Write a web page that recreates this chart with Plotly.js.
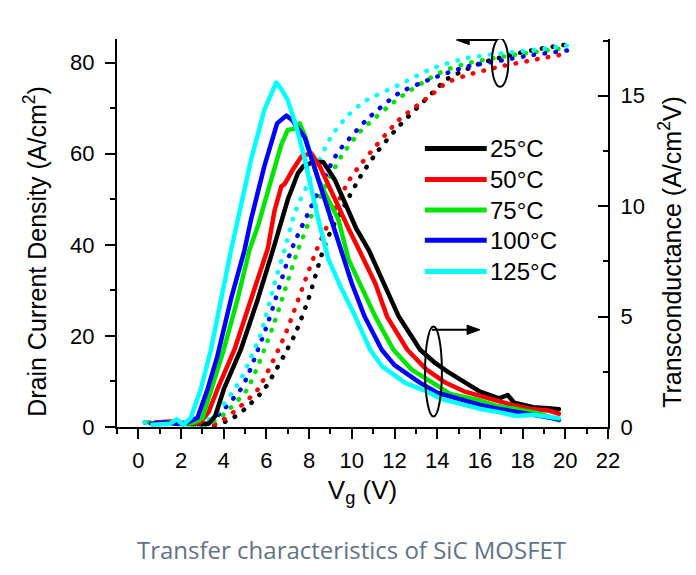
<!DOCTYPE html>
<html>
<head>
<meta charset="utf-8">
<script src="https://cdn.plot.ly/plotly-3.0.1.min.js"></script>
<style>
html,body{margin:0;padding:0;background:#fff;}
#chart{width:696px;height:575px;}
#chart path.js-line{stroke-linecap:round;stroke-linejoin:round;}
</style>
</head>
<body>
<div id="chart"></div>
<script>
// ---- data ----
const temps = ['25°C', '50°C', '75°C', '100°C', '125°C'];
const colors = ['#000000', '#ff0000', '#00e600', '#0000ff', '#00ffff'];

// Drain current density (left axis, dotted)
const idVg25 = [1.0, 2.0, 2.8, 3.5, 4.34, 5.0, 5.9, 7.3, 7.96, 8.66, 9.06, 9.7, 10.4, 11.2, 12.2, 13.8, 14.4, 14.9, 16.1, 17.7, 19.0, 20.1];
const id25   = [0.9, 0.7, 0.3, 0.3, 1.7, 4.0, 8.3, 20.0, 28, 38.9, 43.5, 49, 55, 60.5, 66, 73.5, 76.2, 77.5, 80, 82.0, 83.2, 84.0];
const idVg50 = [0.5, 1.2, 2.0, 2.8, 3.5, 4.0, 4.6, 5.6, 6.85, 8.35, 9.84, 10.47, 12.2, 13.8, 14.4, 15.35, 16.9, 18.5, 20.1];
const id50   = [1.0, 0.9, 0.7, 0.3, 0.4, 1.7, 3.8, 8.3, 20.0, 38.9, 53.9, 58.0, 67.4, 73.2, 75.5, 77.2, 79.1, 80.6, 82.0];
const idVg75 = [0.5, 1.2, 2.0, 2.6, 3.2, 3.7, 4.1, 5.1, 6.3, 7.48, 8.3, 9.5, 10.4, 12.2, 13.8, 14.4, 15.35, 16.9, 18.5, 20.1];
const id75   = [1.0, 1.0, 0.8, 0.3, 0.4, 1.7, 3.2, 8.3, 22.0, 38.9, 48.4, 59.4, 64.9, 72.2, 77, 78.4, 79.8, 81.2, 82.3, 83.3];
const idVg100 = [0.3, 1.0, 1.6, 2.4, 3.0, 3.5, 3.87, 4.8, 5.1, 6.07, 7.17, 8.1, 9.06, 9.37, 10.3, 10.7, 12.2, 13.8, 15.35, 16.9, 18.5, 20.1];
const id100   = [1.0, 1.0, 0.9, 0.3, 0.4, 1.7, 3.2, 8.3, 11.0, 22.9, 38.9, 48.4, 58, 60.5, 65.5, 67.5, 73.3, 76.6, 79.1, 80.4, 81.7, 82.7];
const idVg125 = [0.3, 1.0, 1.5, 2.2, 2.8, 3.3, 3.55, 4.0, 4.5, 4.8, 5.7, 6.38, 6.85, 7.33, 8.1, 9.06, 9.84, 10.6, 12.2, 13.8, 15.35, 16.9, 18.5, 20.1];
const id125   = [1.0, 1.0, 0.9, 0.3, 0.4, 1.7, 2.4, 5.0, 8.3, 10.5, 20.0, 31.6, 38.9, 47, 55, 64, 68.5, 71.5, 75.1, 78.8, 81, 82, 82.8, 83.8];

// Transconductance (right axis, solid)
const gmVg25 = [1.0, 2.0, 2.8, 3.3, 3.6, 4.0, 4.8, 5.6, 6.3, 6.54, 7.0, 7.48, 7.72, 8.2, 8.66, 9.2, 9.7, 10.2, 10.8, 11.5, 12.2, 13.2, 13.9, 14.5, 15.0, 16.0, 16.9, 17.3, 17.6, 18.5, 19.2, 19.7];
const gm25   = [0.2, 0.2, 0.15, 0.15, 0.5, 1.7, 3.5, 5.8, 8.0, 8.8, 10.3, 11.5, 11.8, 12.0, 12.0, 11.2, 10.1, 9.0, 8.0, 6.5, 5.0, 3.5, 2.9, 2.5, 2.2, 1.6, 1.3, 1.45, 1.1, 0.9, 0.85, 0.8];
const gmVg50 = [0.8, 1.5, 2.2, 2.9, 3.3, 3.7, 4.5, 5.28, 5.9, 6.07, 6.38, 6.7, 6.85, 7.2, 7.64, 8.1, 8.5, 9.06, 9.84, 10.4, 11.1, 11.65, 12.6, 13.5, 14.4, 15.3, 16.6, 17.5, 18.5, 19.2, 19.7];
const gm50   = [0.2, 0.25, 0.15, 0.2, 0.7, 1.7, 3.5, 5.8, 7.6, 8.1, 9.8, 10.9, 11.0, 11.6, 12.25, 12.4, 11.8, 10.6, 9.0, 7.9, 6.5, 5.0, 3.5, 2.6, 2.0, 1.6, 1.25, 1.0, 0.8, 0.75, 0.6];
const gmVg75 = [0.8, 1.5, 2.2, 2.6, 3.0, 3.4, 4.0, 4.65, 5.2, 5.6, 6.23, 6.7, 7.0, 7.3, 7.56, 7.8, 8.43, 9.37, 9.84, 10.4, 11.1, 11.95, 12.8, 13.8, 14.6, 15.8, 16.8, 17.8, 18.8, 19.7];
const gm75   = [0.15, 0.2, 0.15, 0.2, 0.4, 1.7, 3.5, 5.8, 8.0, 9.1, 11.2, 12.8, 13.45, 13.5, 13.75, 13.2, 11.2, 9.4, 7.6, 6.4, 5.0, 3.5, 2.6, 2.0, 1.5, 1.25, 0.95, 0.8, 0.6, 0.3];
const gmVg100 = [0.6, 1.2, 1.8, 2.3, 2.77, 3.24, 3.7, 4.34, 4.97, 5.28, 5.9, 6.3, 6.5, 6.93, 7.2, 7.8, 8.74, 9.06, 9.5, 10.0, 10.6, 11.4, 12.0, 13.2, 14.0, 15.0, 16.0, 17.0, 18.0, 19.0, 19.7];
const gm100   = [0.15, 0.2, 0.15, 0.2, 0.42, 1.7, 3.2, 5.8, 8.0, 9.4, 11.8, 13.2, 13.75, 14.1, 13.9, 13.1, 10.3, 9.3, 7.9, 6.5, 5.0, 3.5, 2.8, 2.0, 1.55, 1.25, 1.0, 0.8, 0.65, 0.45, 0.35];
const gmVg125 = [0.65, 1.0, 1.5, 1.8, 2.1, 2.45, 2.92, 3.4, 3.87, 4.34, 4.8, 5.28, 5.9, 6.2, 6.46, 6.7, 7.0, 7.4, 7.8, 8.43, 8.9, 9.5, 10.16, 10.86, 11.4, 12.5, 13.46, 14.25, 15.0, 16.1, 17.0, 17.7, 18.5, 19.3, 19.7];
const gm125   = [0.1, 0.1, 0.15, 0.35, 0.1, 0.4, 1.7, 3.5, 5.8, 8.0, 10.0, 12.1, 14.36, 15.0, 15.6, 15.3, 14.8, 13.6, 12.1, 9.4, 7.6, 6.3, 5.0, 3.5, 2.76, 2.0, 1.63, 1.25, 1.05, 0.8, 0.65, 0.5, 0.55, 0.42, 0.4];

const xTicks = [0, 2, 4, 6, 8, 10, 12, 14, 16, 18, 20, 22];
const leftTicks = [0, 20, 40, 60, 80];
const rightTicks = [0, 5, 10, 15];

const idX = [idVg25, idVg50, idVg75, idVg100, idVg125];
const idY = [id25, id50, id75, id100, id125];
const gmX = [gmVg25, gmVg50, gmVg75, gmVg100, gmVg125];
const gmY = [gm25, gm50, gm75, gm100, gm125];

const FONT = 'Liberation Sans, Arial, Helvetica, sans-serif';
const traces = [];
for (let i = 0; i < 5; i++) {
  traces.push({
    x: idX[i], y: idY[i], type: 'scatter', mode: 'lines', xaxis: 'x', yaxis: 'y',
    line: {color: colors[i], width: 4.5, dash: '0.5px,10.5px', shape: 'spline', smoothing: 0.6},
    showlegend: false, name: temps[i] + ' Id', hoverinfo: 'skip'
  });
}
for (let i = 0; i < 5; i++) {
  traces.push({
    x: gmX[i], y: gmY[i], type: 'scatter', mode: 'lines', xaxis: 'x', yaxis: 'y2',
    line: {color: colors[i], width: 4.5, shape: 'linear'},
    showlegend: false, name: temps[i], hoverinfo: 'skip'
  });
}

// manual legend
const shapes = [];
const annotations = [];
const legY = [0.718, 0.638, 0.559, 0.481, 0.401];
for (let i = 0; i < 5; i++) {
  shapes.push({type: 'line', xref: 'paper', yref: 'paper', x0: 0.627, x1: 0.753, y0: legY[i], y1: legY[i],
    line: {color: colors[i], width: 5}});
  annotations.push({xref: 'paper', yref: 'paper', x: 0.756, y: legY[i], xanchor: 'left', yanchor: 'middle',
    text: temps[i], showarrow: false, font: {family: FONT, size: 24, color: '#000'}});
}
// ellipses
shapes.push({type: 'circle', xref: 'x', yref: 'y', x0: 16.56, x1: 17.33, y0: 74.7, y1: 85.35,
  line: {color: '#000', width: 2}});
shapes.push({type: 'circle', xref: 'x', yref: 'y', x0: 13.43, x1: 14.22, y0: 2.33, y1: 22.07,
  line: {color: '#000', width: 2}});
// arrows (shaft + head)
shapes.push({type: 'line', xref: 'x', yref: 'y', x0: 16.8, x1: 15.3, y0: 84.98, y1: 84.98, line: {color: '#000', width: 2}});
shapes.push({type: 'path', xref: 'x', yref: 'y', path: 'M14.9,84.98 L15.5,86.0 L15.5,83.96 Z',
  fillcolor: '#000', line: {color: '#000', width: 1}});
shapes.push({type: 'line', xref: 'x', yref: 'y', x0: 13.75, x1: 15.6, y0: 21.35, y1: 21.35, line: {color: '#000', width: 2}});
shapes.push({type: 'path', xref: 'x', yref: 'y', path: 'M16.0,21.35 L15.4,22.37 L15.4,20.33 Z',
  fillcolor: '#000', line: {color: '#000', width: 1}});
// axis titles placed like the reference
annotations.push({xref: 'paper', yref: 'paper', x: -0.167, y: 0.4515, xanchor: 'center', yanchor: 'middle',
  textangle: -90, showarrow: false, text: 'Drain Current Density (A/cm<sup>2</sup>)',
  font: {family: FONT, size: 25, color: '#000'}});
annotations.push({xref: 'paper', yref: 'paper', x: 1.1263, y: 0.4515, xanchor: 'center', yanchor: 'middle',
  textangle: -90, showarrow: false, text: 'Transconductance (A/cm<sup>2</sup>V)',
  font: {family: FONT, size: 25, color: '#000'}});
// caption
annotations.push({xref: 'paper', yref: 'paper', x: 0.4786, y: -0.317, xanchor: 'center', yanchor: 'middle',
  text: 'Transfer characteristics of SiC MOSFET', showarrow: false,
  font: {family: 'Open Sans, Noto Sans, sans-serif', size: 24, color: '#617386'}});

const axCommon = {
  showline: true, linecolor: '#000', linewidth: 2, mirror: false,
  showgrid: false, zeroline: false,
  tickcolor: '#000', tickwidth: 2, ticklen: 10,
  tickfont: {family: FONT, size: 22, color: '#000'}
};

const layout = {
  width: 696, height: 575,
  margin: {l: 117, r: 88, t: 39, b: 148, pad: 0},
  paper_bgcolor: '#ffffff', plot_bgcolor: '#ffffff',
  font: {family: FONT, color: '#000'},
  xaxis: Object.assign({}, axCommon, {
    range: [-1, 22], tickvals: xTicks, ticktext: xTicks.map(String), ticks: 'outside',
    ticklabelstandoff: 3,
    minor: {dtick: 1, tick0: 0, ticks: 'outside', ticklen: 5, tickwidth: 2, tickcolor: '#000', showgrid: false},
    title: {text: 'V<sub>g</sub> (V)', font: {family: FONT, size: 26, color: '#000'}, standoff: 8}
  }),
  yaxis: Object.assign({}, axCommon, {
    range: [0, 85.2], tickvals: leftTicks, ticktext: leftTicks.map(String), ticks: 'outside',
    ticklabelstandoff: 6,
    minor: {dtick: 10, tick0: 0, ticks: 'outside', ticklen: 5, tickwidth: 2, tickcolor: '#000', showgrid: false}
  }),
  yaxis2: Object.assign({}, axCommon, {
    overlaying: 'y', side: 'right', anchor: 'x',
    range: [0, 17.57], tickvals: rightTicks, ticktext: rightTicks.map(String), ticks: 'inside',
    ticklabelstandoff: 6,
    minor: {dtick: 2.5, tick0: 0, ticks: 'inside', ticklen: 5, tickwidth: 2, tickcolor: '#000', showgrid: false}
  }),
  shapes: shapes,
  annotations: annotations,
  showlegend: false
};

Plotly.newPlot('chart', traces, layout, {displayModeBar: false, staticPlot: true});
</script>
</body>
</html>
